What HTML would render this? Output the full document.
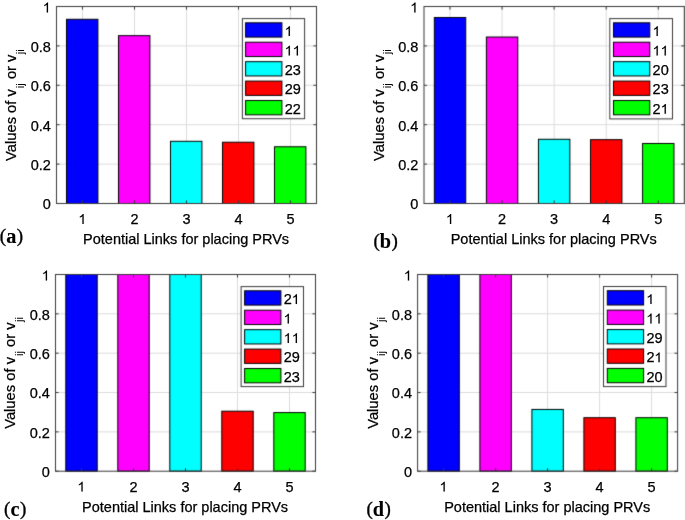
<!DOCTYPE html>
<html><head><meta charset="utf-8"><style>
html,body{margin:0;padding:0;background:#fff;width:685px;height:520px;overflow:hidden}
svg{display:block;will-change:transform}
text{font-family:"Liberation Sans",sans-serif;stroke:#000;stroke-width:0.25px}
</style></head><body><div id="w">
<svg width="685" height="520" viewBox="0 0 685 520">
<defs><filter id="bl" x="0" y="0" width="685" height="520" filterUnits="userSpaceOnUse" color-interpolation-filters="sRGB"><feConvolveMatrix order="3" kernelMatrix="0.01440 0.09120 0.01440 0.09120 0.57760 0.09120 0.01440 0.09120 0.01440" divisor="1" edgeMode="duplicate" preserveAlpha="true"/></filter></defs>
<g filter="url(#bl)">
<rect width="685" height="520" fill="#fff"/>
<line x1="82.50" y1="6.50" x2="82.50" y2="203.50" stroke="#dcdcdc" stroke-width="1"/>
<line x1="134.50" y1="6.50" x2="134.50" y2="203.50" stroke="#dcdcdc" stroke-width="1"/>
<line x1="186.50" y1="6.50" x2="186.50" y2="203.50" stroke="#dcdcdc" stroke-width="1"/>
<line x1="238.50" y1="6.50" x2="238.50" y2="203.50" stroke="#dcdcdc" stroke-width="1"/>
<line x1="290.50" y1="6.50" x2="290.50" y2="203.50" stroke="#dcdcdc" stroke-width="1"/>
<line x1="56.50" y1="164.10" x2="316.50" y2="164.10" stroke="#dcdcdc" stroke-width="1"/>
<line x1="56.50" y1="124.70" x2="316.50" y2="124.70" stroke="#dcdcdc" stroke-width="1"/>
<line x1="56.50" y1="85.30" x2="316.50" y2="85.30" stroke="#dcdcdc" stroke-width="1"/>
<line x1="56.50" y1="45.90" x2="316.50" y2="45.90" stroke="#dcdcdc" stroke-width="1"/>
<rect x="66.50" y="19.30" width="31.41" height="184.20" fill="#0000ff" stroke="#000" stroke-width="1"/>
<rect x="118.50" y="35.66" width="31.41" height="167.84" fill="#ff00ff" stroke="#000" stroke-width="1"/>
<rect x="170.50" y="141.31" width="31.41" height="62.19" fill="#00ffff" stroke="#000" stroke-width="1"/>
<rect x="222.50" y="142.23" width="31.41" height="61.27" fill="#ff0000" stroke="#000" stroke-width="1"/>
<rect x="274.50" y="146.76" width="31.41" height="56.74" fill="#00ff00" stroke="#000" stroke-width="1"/>
<path d="M82.50 203.50V200.40M82.50 6.50V9.60M134.50 203.50V200.40M134.50 6.50V9.60M186.50 203.50V200.40M186.50 6.50V9.60M238.50 203.50V200.40M238.50 6.50V9.60M290.50 203.50V200.40M290.50 6.50V9.60M56.50 203.50H59.60M316.50 203.50H313.40M56.50 164.10H59.60M316.50 164.10H313.40M56.50 124.70H59.60M316.50 124.70H313.40M56.50 85.30H59.60M316.50 85.30H313.40M56.50 45.90H59.60M316.50 45.90H313.40M56.50 6.50H59.60M316.50 6.50H313.40" stroke="#383838" stroke-width="1" fill="none"/>
<rect x="56.50" y="6.50" width="260.00" height="197.00" fill="none" stroke="#383838" stroke-width="1"/>
<rect x="242.40" y="18.60" width="62.20" height="100.10" fill="#fff" stroke="#383838" stroke-width="1"/>
<rect x="245.60" y="22.80" width="36.30" height="14.30" fill="#0000ff" stroke="#000" stroke-width="1"/>
<rect x="245.60" y="42.23" width="36.30" height="14.30" fill="#ff00ff" stroke="#000" stroke-width="1"/>
<rect x="245.60" y="61.66" width="36.30" height="14.30" fill="#00ffff" stroke="#000" stroke-width="1"/>
<rect x="245.60" y="81.09" width="36.30" height="14.30" fill="#ff0000" stroke="#000" stroke-width="1"/>
<rect x="245.60" y="100.52" width="36.30" height="14.30" fill="#00ff00" stroke="#000" stroke-width="1"/>
<line x1="450.03" y1="6.50" x2="450.03" y2="203.50" stroke="#dcdcdc" stroke-width="1"/>
<line x1="502.09" y1="6.50" x2="502.09" y2="203.50" stroke="#dcdcdc" stroke-width="1"/>
<line x1="554.15" y1="6.50" x2="554.15" y2="203.50" stroke="#dcdcdc" stroke-width="1"/>
<line x1="606.21" y1="6.50" x2="606.21" y2="203.50" stroke="#dcdcdc" stroke-width="1"/>
<line x1="658.27" y1="6.50" x2="658.27" y2="203.50" stroke="#dcdcdc" stroke-width="1"/>
<line x1="424.00" y1="164.10" x2="684.30" y2="164.10" stroke="#dcdcdc" stroke-width="1"/>
<line x1="424.00" y1="124.70" x2="684.30" y2="124.70" stroke="#dcdcdc" stroke-width="1"/>
<line x1="424.00" y1="85.30" x2="684.30" y2="85.30" stroke="#dcdcdc" stroke-width="1"/>
<line x1="424.00" y1="45.90" x2="684.30" y2="45.90" stroke="#dcdcdc" stroke-width="1"/>
<rect x="434.33" y="17.53" width="31.41" height="185.97" fill="#0000ff" stroke="#000" stroke-width="1"/>
<rect x="486.39" y="37.03" width="31.41" height="166.47" fill="#ff00ff" stroke="#000" stroke-width="1"/>
<rect x="538.45" y="139.28" width="31.41" height="64.22" fill="#00ffff" stroke="#000" stroke-width="1"/>
<rect x="590.51" y="139.67" width="31.41" height="63.83" fill="#ff0000" stroke="#000" stroke-width="1"/>
<rect x="642.57" y="143.49" width="31.41" height="60.01" fill="#00ff00" stroke="#000" stroke-width="1"/>
<path d="M450.03 203.50V200.40M450.03 6.50V9.60M502.09 203.50V200.40M502.09 6.50V9.60M554.15 203.50V200.40M554.15 6.50V9.60M606.21 203.50V200.40M606.21 6.50V9.60M658.27 203.50V200.40M658.27 6.50V9.60M424.00 203.50H427.10M684.30 203.50H681.20M424.00 164.10H427.10M684.30 164.10H681.20M424.00 124.70H427.10M684.30 124.70H681.20M424.00 85.30H427.10M684.30 85.30H681.20M424.00 45.90H427.10M684.30 45.90H681.20M424.00 6.50H427.10M684.30 6.50H681.20" stroke="#383838" stroke-width="1" fill="none"/>
<rect x="424.00" y="6.50" width="260.30" height="197.00" fill="none" stroke="#383838" stroke-width="1"/>
<rect x="609.80" y="18.60" width="62.70" height="100.30" fill="#fff" stroke="#383838" stroke-width="1"/>
<rect x="613.50" y="22.80" width="36.30" height="14.30" fill="#0000ff" stroke="#000" stroke-width="1"/>
<rect x="613.50" y="42.23" width="36.30" height="14.30" fill="#ff00ff" stroke="#000" stroke-width="1"/>
<rect x="613.50" y="61.66" width="36.30" height="14.30" fill="#00ffff" stroke="#000" stroke-width="1"/>
<rect x="613.50" y="81.09" width="36.30" height="14.30" fill="#ff0000" stroke="#000" stroke-width="1"/>
<rect x="613.50" y="100.52" width="36.30" height="14.30" fill="#00ff00" stroke="#000" stroke-width="1"/>
<line x1="81.50" y1="274.50" x2="81.50" y2="471.20" stroke="#dcdcdc" stroke-width="1"/>
<line x1="133.50" y1="274.50" x2="133.50" y2="471.20" stroke="#dcdcdc" stroke-width="1"/>
<line x1="185.50" y1="274.50" x2="185.50" y2="471.20" stroke="#dcdcdc" stroke-width="1"/>
<line x1="237.50" y1="274.50" x2="237.50" y2="471.20" stroke="#dcdcdc" stroke-width="1"/>
<line x1="289.50" y1="274.50" x2="289.50" y2="471.20" stroke="#dcdcdc" stroke-width="1"/>
<line x1="55.50" y1="431.86" x2="315.50" y2="431.86" stroke="#dcdcdc" stroke-width="1"/>
<line x1="55.50" y1="392.52" x2="315.50" y2="392.52" stroke="#dcdcdc" stroke-width="1"/>
<line x1="55.50" y1="353.18" x2="315.50" y2="353.18" stroke="#dcdcdc" stroke-width="1"/>
<line x1="55.50" y1="313.84" x2="315.50" y2="313.84" stroke="#dcdcdc" stroke-width="1"/>
<rect x="65.80" y="274.50" width="31.41" height="196.70" fill="#0000ff" stroke="#000" stroke-width="1"/>
<rect x="117.80" y="274.50" width="31.41" height="196.70" fill="#ff00ff" stroke="#000" stroke-width="1"/>
<rect x="169.80" y="274.50" width="31.41" height="196.70" fill="#00ffff" stroke="#000" stroke-width="1"/>
<rect x="221.80" y="411.21" width="31.41" height="59.99" fill="#ff0000" stroke="#000" stroke-width="1"/>
<rect x="273.80" y="412.58" width="31.41" height="58.62" fill="#00ff00" stroke="#000" stroke-width="1"/>
<path d="M81.50 471.20V468.10M81.50 274.50V277.60M133.50 471.20V468.10M133.50 274.50V277.60M185.50 471.20V468.10M185.50 274.50V277.60M237.50 471.20V468.10M237.50 274.50V277.60M289.50 471.20V468.10M289.50 274.50V277.60M55.50 471.20H58.60M315.50 471.20H312.40M55.50 431.86H58.60M315.50 431.86H312.40M55.50 392.52H58.60M315.50 392.52H312.40M55.50 353.18H58.60M315.50 353.18H312.40M55.50 313.84H58.60M315.50 313.84H312.40M55.50 274.50H58.60M315.50 274.50H312.40" stroke="#383838" stroke-width="1" fill="none"/>
<rect x="55.50" y="274.50" width="260.00" height="196.70" fill="none" stroke="#383838" stroke-width="1"/>
<rect x="241.10" y="286.60" width="62.40" height="100.00" fill="#fff" stroke="#383838" stroke-width="1"/>
<rect x="244.60" y="290.80" width="36.30" height="14.30" fill="#0000ff" stroke="#000" stroke-width="1"/>
<rect x="244.60" y="310.23" width="36.30" height="14.30" fill="#ff00ff" stroke="#000" stroke-width="1"/>
<rect x="244.60" y="329.66" width="36.30" height="14.30" fill="#00ffff" stroke="#000" stroke-width="1"/>
<rect x="244.60" y="349.09" width="36.30" height="14.30" fill="#ff0000" stroke="#000" stroke-width="1"/>
<rect x="244.60" y="368.52" width="36.30" height="14.30" fill="#00ff00" stroke="#000" stroke-width="1"/>
<line x1="443.60" y1="274.50" x2="443.60" y2="471.20" stroke="#dcdcdc" stroke-width="1"/>
<line x1="495.60" y1="274.50" x2="495.60" y2="471.20" stroke="#dcdcdc" stroke-width="1"/>
<line x1="547.60" y1="274.50" x2="547.60" y2="471.20" stroke="#dcdcdc" stroke-width="1"/>
<line x1="599.60" y1="274.50" x2="599.60" y2="471.20" stroke="#dcdcdc" stroke-width="1"/>
<line x1="651.60" y1="274.50" x2="651.60" y2="471.20" stroke="#dcdcdc" stroke-width="1"/>
<line x1="417.60" y1="431.86" x2="677.60" y2="431.86" stroke="#dcdcdc" stroke-width="1"/>
<line x1="417.60" y1="392.52" x2="677.60" y2="392.52" stroke="#dcdcdc" stroke-width="1"/>
<line x1="417.60" y1="353.18" x2="677.60" y2="353.18" stroke="#dcdcdc" stroke-width="1"/>
<line x1="417.60" y1="313.84" x2="677.60" y2="313.84" stroke="#dcdcdc" stroke-width="1"/>
<rect x="427.90" y="274.50" width="31.41" height="196.70" fill="#0000ff" stroke="#000" stroke-width="1"/>
<rect x="479.90" y="274.50" width="31.41" height="196.70" fill="#ff00ff" stroke="#000" stroke-width="1"/>
<rect x="531.90" y="409.44" width="31.41" height="61.76" fill="#00ffff" stroke="#000" stroke-width="1"/>
<rect x="583.90" y="417.70" width="31.41" height="53.50" fill="#ff0000" stroke="#000" stroke-width="1"/>
<rect x="635.90" y="417.70" width="31.41" height="53.50" fill="#00ff00" stroke="#000" stroke-width="1"/>
<path d="M443.60 471.20V468.10M443.60 274.50V277.60M495.60 471.20V468.10M495.60 274.50V277.60M547.60 471.20V468.10M547.60 274.50V277.60M599.60 471.20V468.10M599.60 274.50V277.60M651.60 471.20V468.10M651.60 274.50V277.60M417.60 471.20H420.70M677.60 471.20H674.50M417.60 431.86H420.70M677.60 431.86H674.50M417.60 392.52H420.70M677.60 392.52H674.50M417.60 353.18H420.70M677.60 353.18H674.50M417.60 313.84H420.70M677.60 313.84H674.50M417.60 274.50H420.70M677.60 274.50H674.50" stroke="#383838" stroke-width="1" fill="none"/>
<rect x="417.60" y="274.50" width="260.00" height="196.70" fill="none" stroke="#383838" stroke-width="1"/>
<rect x="603.50" y="286.50" width="62.50" height="100.10" fill="#fff" stroke="#383838" stroke-width="1"/>
<rect x="607.30" y="290.70" width="36.30" height="14.30" fill="#0000ff" stroke="#000" stroke-width="1"/>
<rect x="607.30" y="310.13" width="36.30" height="14.30" fill="#ff00ff" stroke="#000" stroke-width="1"/>
<rect x="607.30" y="329.56" width="36.30" height="14.30" fill="#00ffff" stroke="#000" stroke-width="1"/>
<rect x="607.30" y="348.99" width="36.30" height="14.30" fill="#ff0000" stroke="#000" stroke-width="1"/>
<rect x="607.30" y="368.42" width="36.30" height="14.30" fill="#00ff00" stroke="#000" stroke-width="1"/>
</g>
<text x="42.84" y="209.40" font-size="14.50" fill="#000000">0</text>
<text x="30.74" y="170.00" font-size="14.50" fill="#000000">0</text><text x="38.81" y="170.00" font-size="14.50" fill="#000000">.</text><text x="42.84" y="170.00" font-size="14.50" fill="#000000">2</text>
<text x="30.74" y="130.60" font-size="14.50" fill="#000000">0</text><text x="38.81" y="130.60" font-size="14.50" fill="#000000">.</text><text x="42.84" y="130.60" font-size="14.50" fill="#000000">4</text>
<text x="30.74" y="91.20" font-size="14.50" fill="#000000">0</text><text x="38.81" y="91.20" font-size="14.50" fill="#000000">.</text><text x="42.84" y="91.20" font-size="14.50" fill="#000000">6</text>
<text x="30.74" y="51.80" font-size="14.50" fill="#000000">0</text><text x="38.81" y="51.80" font-size="14.50" fill="#000000">.</text><text x="42.84" y="51.80" font-size="14.50" fill="#000000">8</text>
<path d="M 48.04 12.40 L 46.76 12.40 L 46.76 4.73 Q 46.30 5.14 45.56 5.56 Q 44.82 5.97 44.21 6.18 L 44.21 5.01 Q 45.28 4.54 46.08 3.86 Q 46.88 3.19 47.22 2.59 L 48.04 2.59 Z" fill="#000000" stroke="#000000" stroke-width="0.1"/>
<path d="M 83.67 223.90 L 82.40 223.90 L 82.40 216.23 Q 81.94 216.64 81.19 217.06 Q 80.45 217.47 79.85 217.68 L 79.85 216.51 Q 80.92 216.04 81.72 215.36 Q 82.52 214.69 82.85 214.09 L 83.67 214.09 Z" fill="#000000" stroke="#000000" stroke-width="0.1"/>
<text x="130.47" y="223.90" font-size="14.50" fill="#000000">2</text>
<text x="182.47" y="223.90" font-size="14.50" fill="#000000">3</text>
<text x="234.47" y="223.90" font-size="14.50" fill="#000000">4</text>
<text x="286.47" y="223.90" font-size="14.50" fill="#000000">5</text>
<text x="186.10" y="244.10" font-size="14.50" fill="#000000" text-anchor="middle">Potential Links for placing PRVs</text>
<g transform="translate(16.45 161.00) rotate(-90)" fill="#000000">
<text x="0" y="0" font-size="14.75">Values of v</text>
<text x="72.8" y="7.5" font-size="11.60" style="stroke-width:0.1px">ij</text>
<text x="77.8" y="0" font-size="14.75" xml:space="preserve"> or v</text>
<text x="106.8" y="7.5" font-size="11.60" style="stroke-width:0.1px">ji</text>
</g>
<path d="M 289.90 36.10 L 288.63 36.10 L 288.63 28.43 Q 288.17 28.84 287.42 29.26 Q 286.68 29.67 286.08 29.88 L 286.08 28.71 Q 287.15 28.24 287.95 27.56 Q 288.75 26.89 289.08 26.29 L 289.90 26.29 Z" fill="#000" stroke="#000" stroke-width="0.1"/>
<path d="M 289.90 55.53 L 288.63 55.53 L 288.63 47.86 Q 288.17 48.27 287.42 48.69 Q 286.68 49.10 286.08 49.31 L 286.08 48.14 Q 287.15 47.67 287.95 46.99 Q 288.75 46.32 289.08 45.72 L 289.90 45.72 Z" fill="#000" stroke="#000" stroke-width="0.1"/><path d="M 297.97 55.53 L 296.69 55.53 L 296.69 47.86 Q 296.23 48.27 295.49 48.69 Q 294.74 49.10 294.14 49.31 L 294.14 48.14 Q 295.21 47.67 296.01 46.99 Q 296.81 46.32 297.15 45.72 L 297.97 45.72 Z" fill="#000" stroke="#000" stroke-width="0.1"/>
<text x="284.70" y="74.96" font-size="14.50" fill="#000">2</text><text x="292.76" y="74.96" font-size="14.50" fill="#000">3</text>
<text x="284.70" y="94.39" font-size="14.50" fill="#000">2</text><text x="292.76" y="94.39" font-size="14.50" fill="#000">9</text>
<text x="284.70" y="113.82" font-size="14.50" fill="#000">2</text><text x="292.76" y="113.82" font-size="14.50" fill="#000">2</text>
<text x="-0.20" y="241.70" style="font-family:&quot;Liberation Serif&quot;,serif;font-size:19px;stroke-width:0.35px" fill="#000">(</text>
<text x="6.20" y="242.60" style="font-family:&quot;Liberation Serif&quot;,serif;font-weight:bold;font-size:20.3px;stroke-width:0.1px" fill="#000">a</text>
<text x="16.85" y="241.70" style="font-family:&quot;Liberation Serif&quot;,serif;font-size:19px;stroke-width:0.35px" fill="#000">)</text>
<text x="410.34" y="209.40" font-size="14.50" fill="#000000">0</text>
<text x="398.24" y="170.00" font-size="14.50" fill="#000000">0</text><text x="406.31" y="170.00" font-size="14.50" fill="#000000">.</text><text x="410.34" y="170.00" font-size="14.50" fill="#000000">2</text>
<text x="398.24" y="130.60" font-size="14.50" fill="#000000">0</text><text x="406.31" y="130.60" font-size="14.50" fill="#000000">.</text><text x="410.34" y="130.60" font-size="14.50" fill="#000000">4</text>
<text x="398.24" y="91.20" font-size="14.50" fill="#000000">0</text><text x="406.31" y="91.20" font-size="14.50" fill="#000000">.</text><text x="410.34" y="91.20" font-size="14.50" fill="#000000">6</text>
<text x="398.24" y="51.80" font-size="14.50" fill="#000000">0</text><text x="406.31" y="51.80" font-size="14.50" fill="#000000">.</text><text x="410.34" y="51.80" font-size="14.50" fill="#000000">8</text>
<path d="M 415.54 12.40 L 414.26 12.40 L 414.26 4.73 Q 413.80 5.14 413.06 5.56 Q 412.32 5.97 411.71 6.18 L 411.71 5.01 Q 412.78 4.54 413.58 3.86 Q 414.38 3.19 414.72 2.59 L 415.54 2.59 Z" fill="#000000" stroke="#000000" stroke-width="0.1"/>
<path d="M 451.20 223.90 L 449.93 223.90 L 449.93 216.23 Q 449.47 216.64 448.72 217.06 Q 447.98 217.47 447.38 217.68 L 447.38 216.51 Q 448.45 216.04 449.25 215.36 Q 450.05 214.69 450.38 214.09 L 451.20 214.09 Z" fill="#000000" stroke="#000000" stroke-width="0.1"/>
<text x="498.06" y="223.90" font-size="14.50" fill="#000000">2</text>
<text x="550.12" y="223.90" font-size="14.50" fill="#000000">3</text>
<text x="602.18" y="223.90" font-size="14.50" fill="#000000">4</text>
<text x="654.24" y="223.90" font-size="14.50" fill="#000000">5</text>
<text x="553.75" y="244.10" font-size="14.50" fill="#000000" text-anchor="middle">Potential Links for placing PRVs</text>
<g transform="translate(383.95 161.00) rotate(-90)" fill="#000000">
<text x="0" y="0" font-size="14.75">Values of v</text>
<text x="72.8" y="7.5" font-size="11.60" style="stroke-width:0.1px">ij</text>
<text x="77.8" y="0" font-size="14.75" xml:space="preserve"> or v</text>
<text x="106.8" y="7.5" font-size="11.60" style="stroke-width:0.1px">ji</text>
</g>
<path d="M 657.80 36.10 L 656.53 36.10 L 656.53 28.43 Q 656.07 28.84 655.32 29.26 Q 654.58 29.67 653.98 29.88 L 653.98 28.71 Q 655.05 28.24 655.85 27.56 Q 656.65 26.89 656.98 26.29 L 657.80 26.29 Z" fill="#000" stroke="#000" stroke-width="0.1"/>
<path d="M 657.80 55.53 L 656.53 55.53 L 656.53 47.86 Q 656.07 48.27 655.32 48.69 Q 654.58 49.10 653.98 49.31 L 653.98 48.14 Q 655.05 47.67 655.85 46.99 Q 656.65 46.32 656.98 45.72 L 657.80 45.72 Z" fill="#000" stroke="#000" stroke-width="0.1"/><path d="M 665.87 55.53 L 664.59 55.53 L 664.59 47.86 Q 664.13 48.27 663.39 48.69 Q 662.64 49.10 662.04 49.31 L 662.04 48.14 Q 663.11 47.67 663.91 46.99 Q 664.71 46.32 665.05 45.72 L 665.87 45.72 Z" fill="#000" stroke="#000" stroke-width="0.1"/>
<text x="652.60" y="74.96" font-size="14.50" fill="#000">2</text><text x="660.66" y="74.96" font-size="14.50" fill="#000">0</text>
<text x="652.60" y="94.39" font-size="14.50" fill="#000">2</text><text x="660.66" y="94.39" font-size="14.50" fill="#000">3</text>
<text x="652.60" y="113.82" font-size="14.50" fill="#000">2</text><path d="M 665.87 113.82 L 664.59 113.82 L 664.59 106.15 Q 664.13 106.56 663.39 106.98 Q 662.64 107.39 662.04 107.60 L 662.04 106.43 Q 663.11 105.96 663.91 105.28 Q 664.71 104.61 665.05 104.01 L 665.87 104.01 Z" fill="#000" stroke="#000" stroke-width="0.1"/>
<text x="373.40" y="246.90" style="font-family:&quot;Liberation Serif&quot;,serif;font-size:19px;stroke-width:0.35px" fill="#000">(</text>
<text x="379.80" y="247.80" style="font-family:&quot;Liberation Serif&quot;,serif;font-weight:bold;font-size:20.3px;stroke-width:0.1px" fill="#000">b</text>
<text x="391.59" y="246.90" style="font-family:&quot;Liberation Serif&quot;,serif;font-size:19px;stroke-width:0.35px" fill="#000">)</text>
<text x="41.84" y="477.10" font-size="14.50" fill="#000000">0</text>
<text x="29.74" y="437.76" font-size="14.50" fill="#000000">0</text><text x="37.81" y="437.76" font-size="14.50" fill="#000000">.</text><text x="41.84" y="437.76" font-size="14.50" fill="#000000">2</text>
<text x="29.74" y="398.42" font-size="14.50" fill="#000000">0</text><text x="37.81" y="398.42" font-size="14.50" fill="#000000">.</text><text x="41.84" y="398.42" font-size="14.50" fill="#000000">4</text>
<text x="29.74" y="359.08" font-size="14.50" fill="#000000">0</text><text x="37.81" y="359.08" font-size="14.50" fill="#000000">.</text><text x="41.84" y="359.08" font-size="14.50" fill="#000000">6</text>
<text x="29.74" y="319.74" font-size="14.50" fill="#000000">0</text><text x="37.81" y="319.74" font-size="14.50" fill="#000000">.</text><text x="41.84" y="319.74" font-size="14.50" fill="#000000">8</text>
<path d="M 47.04 280.40 L 45.76 280.40 L 45.76 272.73 Q 45.30 273.14 44.56 273.56 Q 43.82 273.97 43.21 274.18 L 43.21 273.01 Q 44.28 272.54 45.08 271.86 Q 45.88 271.19 46.22 270.59 L 47.04 270.59 Z" fill="#000000" stroke="#000000" stroke-width="0.1"/>
<path d="M 82.67 491.60 L 81.40 491.60 L 81.40 483.93 Q 80.94 484.34 80.19 484.76 Q 79.45 485.17 78.85 485.38 L 78.85 484.21 Q 79.92 483.74 80.72 483.06 Q 81.52 482.39 81.85 481.79 L 82.67 481.79 Z" fill="#000000" stroke="#000000" stroke-width="0.1"/>
<text x="129.47" y="491.60" font-size="14.50" fill="#000000">2</text>
<text x="181.47" y="491.60" font-size="14.50" fill="#000000">3</text>
<text x="233.47" y="491.60" font-size="14.50" fill="#000000">4</text>
<text x="285.47" y="491.60" font-size="14.50" fill="#000000">5</text>
<text x="185.10" y="511.80" font-size="14.50" fill="#000000" text-anchor="middle">Potential Links for placing PRVs</text>
<g transform="translate(15.45 428.85) rotate(-90)" fill="#000000">
<text x="0" y="0" font-size="14.75">Values of v</text>
<text x="72.8" y="7.5" font-size="11.60" style="stroke-width:0.1px">ij</text>
<text x="77.8" y="0" font-size="14.75" xml:space="preserve"> or v</text>
<text x="106.8" y="7.5" font-size="11.60" style="stroke-width:0.1px">ji</text>
</g>
<text x="283.70" y="304.10" font-size="14.50" fill="#000">2</text><path d="M 296.97 304.10 L 295.69 304.10 L 295.69 296.43 Q 295.23 296.84 294.49 297.26 Q 293.74 297.67 293.14 297.88 L 293.14 296.71 Q 294.21 296.24 295.01 295.56 Q 295.81 294.89 296.15 294.29 L 296.97 294.29 Z" fill="#000" stroke="#000" stroke-width="0.1"/>
<path d="M 288.90 323.53 L 287.63 323.53 L 287.63 315.86 Q 287.17 316.27 286.42 316.69 Q 285.68 317.10 285.08 317.31 L 285.08 316.14 Q 286.15 315.67 286.95 314.99 Q 287.75 314.32 288.08 313.72 L 288.90 313.72 Z" fill="#000" stroke="#000" stroke-width="0.1"/>
<path d="M 288.90 342.96 L 287.63 342.96 L 287.63 335.29 Q 287.17 335.70 286.42 336.12 Q 285.68 336.53 285.08 336.74 L 285.08 335.57 Q 286.15 335.10 286.95 334.42 Q 287.75 333.75 288.08 333.15 L 288.90 333.15 Z" fill="#000" stroke="#000" stroke-width="0.1"/><path d="M 296.97 342.96 L 295.69 342.96 L 295.69 335.29 Q 295.23 335.70 294.49 336.12 Q 293.74 336.53 293.14 336.74 L 293.14 335.57 Q 294.21 335.10 295.01 334.42 Q 295.81 333.75 296.15 333.15 L 296.97 333.15 Z" fill="#000" stroke="#000" stroke-width="0.1"/>
<text x="283.70" y="362.39" font-size="14.50" fill="#000">2</text><text x="291.76" y="362.39" font-size="14.50" fill="#000">9</text>
<text x="283.70" y="381.82" font-size="14.50" fill="#000">2</text><text x="291.76" y="381.82" font-size="14.50" fill="#000">3</text>
<text x="4.10" y="514.80" style="font-family:&quot;Liberation Serif&quot;,serif;font-size:19px;stroke-width:0.35px" fill="#000">(</text>
<text x="10.50" y="515.70" style="font-family:&quot;Liberation Serif&quot;,serif;font-weight:bold;font-size:20.3px;stroke-width:0.1px" fill="#000">c</text>
<text x="20.01" y="514.80" style="font-family:&quot;Liberation Serif&quot;,serif;font-size:19px;stroke-width:0.35px" fill="#000">)</text>
<text x="403.94" y="477.10" font-size="14.50" fill="#000000">0</text>
<text x="391.84" y="437.76" font-size="14.50" fill="#000000">0</text><text x="399.91" y="437.76" font-size="14.50" fill="#000000">.</text><text x="403.94" y="437.76" font-size="14.50" fill="#000000">2</text>
<text x="391.84" y="398.42" font-size="14.50" fill="#000000">0</text><text x="399.91" y="398.42" font-size="14.50" fill="#000000">.</text><text x="403.94" y="398.42" font-size="14.50" fill="#000000">4</text>
<text x="391.84" y="359.08" font-size="14.50" fill="#000000">0</text><text x="399.91" y="359.08" font-size="14.50" fill="#000000">.</text><text x="403.94" y="359.08" font-size="14.50" fill="#000000">6</text>
<text x="391.84" y="319.74" font-size="14.50" fill="#000000">0</text><text x="399.91" y="319.74" font-size="14.50" fill="#000000">.</text><text x="403.94" y="319.74" font-size="14.50" fill="#000000">8</text>
<path d="M 409.14 280.40 L 407.86 280.40 L 407.86 272.73 Q 407.40 273.14 406.66 273.56 Q 405.92 273.97 405.31 274.18 L 405.31 273.01 Q 406.38 272.54 407.18 271.86 Q 407.98 271.19 408.32 270.59 L 409.14 270.59 Z" fill="#000000" stroke="#000000" stroke-width="0.1"/>
<path d="M 444.77 491.60 L 443.50 491.60 L 443.50 483.93 Q 443.04 484.34 442.29 484.76 Q 441.55 485.17 440.95 485.38 L 440.95 484.21 Q 442.02 483.74 442.82 483.06 Q 443.62 482.39 443.95 481.79 L 444.77 481.79 Z" fill="#000000" stroke="#000000" stroke-width="0.1"/>
<text x="491.57" y="491.60" font-size="14.50" fill="#000000">2</text>
<text x="543.57" y="491.60" font-size="14.50" fill="#000000">3</text>
<text x="595.57" y="491.60" font-size="14.50" fill="#000000">4</text>
<text x="647.57" y="491.60" font-size="14.50" fill="#000000">5</text>
<text x="547.20" y="511.80" font-size="14.50" fill="#000000" text-anchor="middle">Potential Links for placing PRVs</text>
<g transform="translate(377.55 428.85) rotate(-90)" fill="#000000">
<text x="0" y="0" font-size="14.75">Values of v</text>
<text x="72.8" y="7.5" font-size="11.60" style="stroke-width:0.1px">ij</text>
<text x="77.8" y="0" font-size="14.75" xml:space="preserve"> or v</text>
<text x="106.8" y="7.5" font-size="11.60" style="stroke-width:0.1px">ji</text>
</g>
<path d="M 651.60 304.00 L 650.33 304.00 L 650.33 296.33 Q 649.87 296.74 649.12 297.16 Q 648.38 297.57 647.78 297.78 L 647.78 296.61 Q 648.85 296.14 649.65 295.46 Q 650.45 294.79 650.78 294.19 L 651.60 294.19 Z" fill="#000" stroke="#000" stroke-width="0.1"/>
<path d="M 651.60 323.43 L 650.33 323.43 L 650.33 315.76 Q 649.87 316.17 649.12 316.59 Q 648.38 317.00 647.78 317.21 L 647.78 316.04 Q 648.85 315.57 649.65 314.89 Q 650.45 314.22 650.78 313.62 L 651.60 313.62 Z" fill="#000" stroke="#000" stroke-width="0.1"/><path d="M 659.67 323.43 L 658.39 323.43 L 658.39 315.76 Q 657.93 316.17 657.19 316.59 Q 656.44 317.00 655.84 317.21 L 655.84 316.04 Q 656.91 315.57 657.71 314.89 Q 658.51 314.22 658.85 313.62 L 659.67 313.62 Z" fill="#000" stroke="#000" stroke-width="0.1"/>
<text x="646.40" y="342.86" font-size="14.50" fill="#000">2</text><text x="654.46" y="342.86" font-size="14.50" fill="#000">9</text>
<text x="646.40" y="362.29" font-size="14.50" fill="#000">2</text><path d="M 659.67 362.29 L 658.39 362.29 L 658.39 354.62 Q 657.93 355.03 657.19 355.45 Q 656.44 355.86 655.84 356.07 L 655.84 354.90 Q 656.91 354.43 657.71 353.75 Q 658.51 353.08 658.85 352.48 L 659.67 352.48 Z" fill="#000" stroke="#000" stroke-width="0.1"/>
<text x="646.40" y="381.72" font-size="14.50" fill="#000">2</text><text x="654.46" y="381.72" font-size="14.50" fill="#000">0</text>
<text x="366.40" y="514.80" style="font-family:&quot;Liberation Serif&quot;,serif;font-size:19px;stroke-width:0.35px" fill="#000">(</text>
<text x="372.80" y="515.70" style="font-family:&quot;Liberation Serif&quot;,serif;font-weight:bold;font-size:20.3px;stroke-width:0.1px" fill="#000">d</text>
<text x="384.59" y="514.80" style="font-family:&quot;Liberation Serif&quot;,serif;font-size:19px;stroke-width:0.35px" fill="#000">)</text>
</svg></div>
</body></html>
